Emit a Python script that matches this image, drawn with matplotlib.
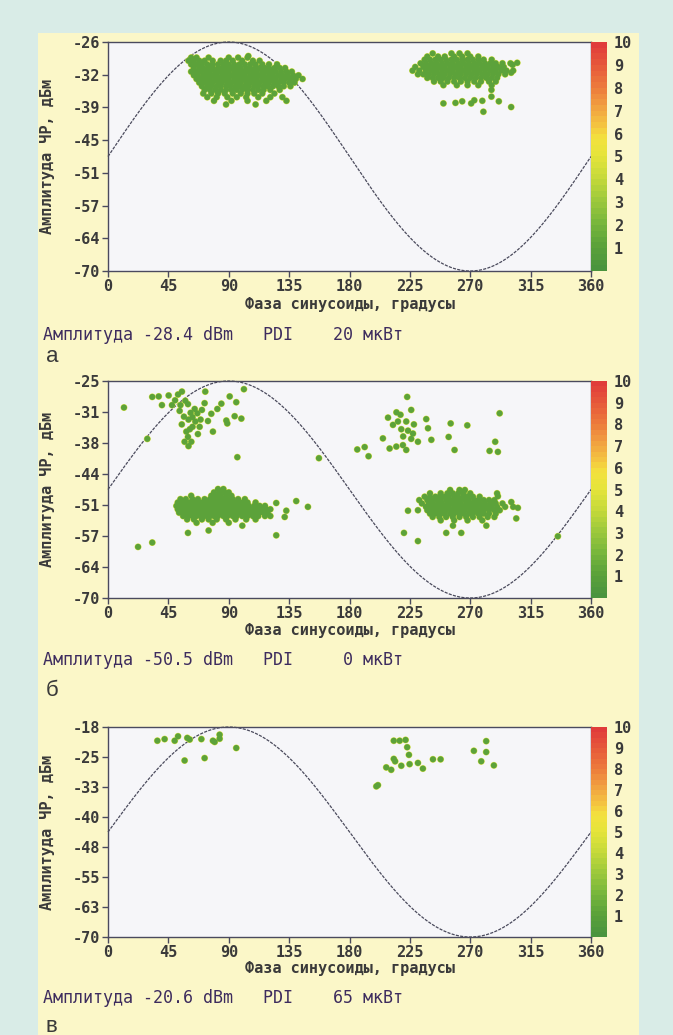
import numpy as np
import matplotlib
matplotlib.use("Agg")
import matplotlib.pyplot as plt
from matplotlib.patches import Rectangle
from matplotlib.colors import LinearSegmentedColormap, ListedColormap, Normalize
from matplotlib.cm import ScalarMappable

plt.rcParams['font.family'] = ['DejaVu Sans Mono']
plt.rcParams['font.weight'] = 'bold'

# ---------------- data ----------------
XTICKS = [0, 45, 90, 135, 180, 225, 270, 315, 360]
CBAR_TICKS = [1, 2, 3, 4, 5, 6, 7, 8, 9, 10]
COUNT = 1  # pulse count level of each plotted point (colour scale value)

# panel a
YLIM_A = (-70, -26)
YTICKLABELS_A = ["-70", "-64", "-57", "-51", "-45", "-39", "-32", "-26"]
ANNOT_A = "Амплитуда -28.4 dBm   PDI    20 мкВт"
LETTER_A = "а"
A_LEFT_ROWS = [
    (-29.0, [62, 66, 75, 90, 97, 104]),
    (-29.6, [60, 64, 68, 72, 78, 84, 88, 93, 100, 108, 113]),
    (-30.3, [62, 66, 70, 74, 78, 82, 86, 90, 94, 98, 102, 106, 110, 115, 120, 126]),
    (-31.0, [64, 68, 71, 75, 78, 82, 85, 89, 92, 96, 99, 103, 106, 110, 113, 117, 120, 124, 128, 132]),
    (-31.7, [62, 66, 69, 73, 76, 80, 83, 87, 90, 94, 97, 101, 104, 108, 111, 115, 118, 122, 125, 129, 133, 137]),
    (-32.4, [64, 67, 71, 74, 78, 81, 85, 88, 92, 95, 99, 102, 106, 109, 113, 116, 120, 123, 127, 130, 134, 138, 142]),
    (-33.1, [66, 69, 73, 76, 80, 83, 87, 90, 94, 97, 101, 104, 108, 111, 115, 118, 122, 125, 129, 132, 136, 140, 145]),
    (-33.8, [68, 71, 75, 78, 82, 85, 89, 92, 96, 99, 103, 106, 110, 113, 117, 120, 124, 127, 131, 135, 139]),
    (-34.5, [70, 74, 77, 81, 84, 88, 91, 95, 98, 102, 105, 109, 112, 116, 119, 123, 127, 131, 136]),
    (-35.2, [72, 76, 80, 84, 88, 92, 96, 100, 104, 108, 112, 116, 121, 128]),
    (-35.9, [71, 77, 82, 87, 93, 99, 104, 109, 115, 124]),
    (-36.6, [74, 81, 89, 96, 103, 112, 121, 130]),
    (-37.3, [79, 92, 104, 118, 133]),
    (-38.0, [88, 110]),
]
A_RIGHT_ROWS = [
    (-28.2, [242, 256, 262, 268]),
    (-28.8, [238, 246, 251, 258, 264, 270, 276]),
    (-29.4, [236, 240, 244, 248, 252, 256, 260, 264, 268, 272, 276, 280, 286]),
    (-30.1, [233, 237, 241, 245, 249, 253, 257, 261, 265, 269, 273, 277, 281, 285, 289, 294, 300]),
    (-30.8, [229, 235, 239, 243, 247, 251, 255, 259, 263, 267, 271, 275, 279, 283, 287, 291, 295]),
    (-31.5, [227, 232, 237, 241, 245, 249, 253, 257, 261, 265, 269, 273, 277, 281, 285, 289, 293, 297, 302]),
    (-32.2, [231, 235, 239, 243, 247, 251, 255, 259, 263, 267, 271, 275, 279, 283, 287, 291, 296]),
    (-32.9, [238, 242, 246, 250, 254, 258, 262, 266, 270, 274, 278, 282, 286, 290]),
    (-33.6, [243, 248, 253, 258, 263, 268, 273, 278, 284, 289]),
    (-34.3, [250, 260, 268, 276, 286]),
]
A_SPARSE_PHASE = [104.6, 250, 259, 264, 270.7, 273, 279, 285.8, 285.8, 291.3, 300.5, 279.8, 301.6, 300.5, 305]
A_SPARSE_AMP = [-28.7, -37.8, -37.7, -37.4, -37.8, -37.2, -37.3, -35.2, -36.5, -37.4, -38.5, -39.4, -30.4, -31.9, -30.0]

# panel b
YLIM_B = (-70, -25)
YTICKLABELS_B = ["-70", "-64", "-57", "-51", "-44", "-38", "-31", "-25"]
ANNOT_B = "Амплитуда -50.5 dBm   PDI     0 мкВт"
LETTER_B = "б"
B_LEFT_ROWS = [
    (-47.4, [82, 86]),
    (-48.1, [79, 83, 87, 90]),
    (-48.8, [62, 77, 80, 84, 88, 92]),
    (-49.5, [54, 58, 63, 67, 72, 76, 79, 83, 86, 89, 93, 97, 102]),
    (-50.2, [52, 55, 58, 61, 64, 67, 70, 73, 76, 79, 82, 85, 88, 91, 94, 97, 100, 104, 110]),
    (-50.9, [51, 54, 57, 60, 63, 66, 69, 72, 75, 78, 81, 84, 87, 90, 93, 96, 99, 102, 105, 109, 113, 117]),
    (-51.6, [52, 55, 58, 61, 64, 67, 70, 73, 76, 79, 82, 85, 88, 91, 94, 97, 100, 103, 106, 109, 112, 115, 118, 121]),
    (-52.3, [53, 56, 59, 62, 65, 68, 71, 74, 77, 80, 83, 86, 89, 92, 95, 98, 101, 104, 107, 110, 113, 116, 119]),
    (-53.0, [56, 60, 63, 66, 69, 72, 76, 79, 82, 86, 89, 93, 96, 100, 104, 108, 112, 117, 121]),
    (-53.7, [59, 64, 70, 75, 81, 88, 95, 103, 110]),
    (-54.4, [66, 78, 90]),
]
B_RIGHT_ROWS = [
    (-47.6, [255, 262, 266]),
    (-48.3, [240, 248, 253, 257, 261, 265, 270, 290]),
    (-49.0, [236, 240, 244, 247, 251, 254, 258, 261, 265, 268, 272, 277]),
    (-49.7, [232, 238, 241, 245, 248, 252, 255, 259, 262, 266, 269, 273, 276, 280, 284, 288]),
    (-50.4, [234, 239, 242, 246, 249, 253, 256, 260, 263, 267, 270, 274, 277, 281, 285, 289, 294]),
    (-51.1, [237, 240, 244, 247, 251, 254, 258, 261, 265, 268, 272, 275, 279, 282, 286, 290, 296, 302]),
    (-51.8, [231, 238, 242, 245, 249, 252, 256, 259, 263, 266, 270, 273, 277, 280, 284, 288, 292]),
    (-52.5, [240, 244, 248, 251, 255, 258, 262, 265, 269, 272, 276, 280, 284, 289]),
    (-53.2, [242, 247, 252, 257, 262, 267, 272, 277, 283, 288]),
    (-53.9, [248, 258, 268, 279]),
]
B_SPARSE_PHASE = [
    11.9, 29.3, 33, 37.8, 40.2, 45.2, 47.7, 52.2, 55.1, 53.4, 57.6, 59.6, 61.6, 56.6, 64.6, 66.6,
    65.1, 58.4, 57.1, 62.1, 59.6, 68.3, 72, 74.5, 78.2, 77, 81.5, 84.5, 72.5, 88.2, 90.7, 94.4,
    95.6, 99.4, 101.3, 96.4, 88.9, 60, 63, 55, 61, 67, 70, 54, 50, 60, 63, 69,
    223, 226, 208.7, 212.4, 216.1, 218.6, 222.3, 223.6, 227.3, 231, 219.8, 222.3, 214.9, 209.9,
    204.9, 237.2, 238.5, 241, 185.8, 191.3, 194.2, 255.4, 253.9, 258.3, 267.8, 291.9, 288.6,
    284.4, 290.6, 157.2, 215, 220, 226, 218, 228,
    59.6, 75, 100.1, 125.4, 131.7, 132.9, 140.3, 149, 125.4, 22.4, 33,
    220.6, 231, 252.1, 263.3, 257.1, 282, 304.3, 305.5, 300.6, 223.6, 335.3, 290.6,
]
B_SPARSE_AMP = [
    -30.5, -37.0, -28.3, -28.2, -30.0, -28.0, -30.0, -27.8, -27.2, -31.2, -29.1, -29.8, -31.6, -32.4, -30.8, -31.7,
    -33.4, -35.5, -37.6, -37.6, -36.6, -34.5, -29.6, -33.3, -35.5, -31.8, -30.8, -29.7, -27.2, -33.2, -28.2, -32.3,
    -29.4, -32.8, -26.7, -40.8, -33.8, -33.0, -34.5, -34.0, -35.0, -36.0, -31.0, -30.0, -29.0, -38.5, -32.5, -33.0,
    -28.3, -31.0, -32.6, -34.1, -33.4, -35.0, -33.4, -35.3, -35.9, -37.6, -38.3, -39.3, -38.6, -39.0,
    -36.9, -32.9, -34.8, -37.2, -39.2, -38.7, -40.6, -33.8, -36.6, -39.3, -34.2, -31.7, -37.6,
    -39.5, -39.7, -41.0, -31.5, -36.5, -37.0, -32.0, -34.0,
    -56.5, -56.0, -55.0, -57.0, -53.2, -51.9, -49.9, -51.1, -50.3, -59.4, -58.5,
    -56.5, -58.2, -56.5, -56.5, -55.0, -55.0, -53.5, -51.3, -50.1, -51.9, -57.2, -48.9,
]

# panel c
YLIM_C = (-70, -18)
YTICKLABELS_C = ["-70", "-63", "-55", "-48", "-40", "-33", "-25", "-18"]
ANNOT_C = "Амплитуда -20.6 dBm   PDI    65 мкВт"
LETTER_C = "в"
C_PHASE = [36.8, 42.2, 49.7, 52.2, 59.1, 60.9, 69.6, 57.1, 72.0, 78.2, 79.5, 83.2, 83.2, 95.6,
           213.0, 217.4, 221.8, 223.0, 224.3, 213.0, 214.0, 207.4, 211.1, 218.6, 224.8, 231.0,
           234.7, 242.2, 247.9, 201.2, 200.0, 281.9, 272.7, 281.9, 278.2, 287.6]
C_AMP = [-21.4, -21.0, -21.4, -20.3, -20.7, -21.1, -21.0, -26.3, -25.7, -21.4, -21.7, -19.9, -20.9, -23.2,
         -21.4, -21.4, -21.2, -23.0, -24.9, -25.9, -26.5, -28.0, -28.6, -27.6, -27.2, -26.9,
         -28.3, -26.0, -26.0, -32.4, -32.7, -21.5, -23.9, -24.2, -26.5, -27.5]


def rows_to_points(rows):
    ph, am = [], []
    for a, phs in rows:
        for p in phs:
            ph.append(p)
            am.append(a)
    return ph, am


def collect(row_sets, sp_ph, sp_am):
    ph, am = [], []
    for r in row_sets:
        p, a = rows_to_points(r)
        ph += p
        am += a
    return ph + list(sp_ph), am + list(sp_am)


PANELS = [
    dict(data=collect([A_LEFT_ROWS, A_RIGHT_ROWS], A_SPARSE_PHASE, A_SPARSE_AMP), ylim=YLIM_A,
         ytl=YTICKLABELS_A, annot=ANNOT_A, letter=LETTER_A,
         top=42, bottom=271, annot_y=335, letter_y=357),
    dict(data=collect([B_LEFT_ROWS, B_RIGHT_ROWS], B_SPARSE_PHASE, B_SPARSE_AMP), ylim=YLIM_B,
         ytl=YTICKLABELS_B, annot=ANNOT_B, letter=LETTER_B,
         top=381, bottom=598, annot_y=660, letter_y=691),
    dict(data=collect([], C_PHASE, C_AMP), ylim=YLIM_C,
         ytl=YTICKLABELS_C, annot=ANNOT_C, letter=LETTER_C,
         top=727, bottom=937, annot_y=998, letter_y=1026),
]

# ---------------- style ----------------
W, H = 673, 1035
fig = plt.figure(figsize=(W / 100, H / 100), dpi=100)
fig.patch.set_facecolor('#d9ece7')
fig.add_artist(Rectangle((38 / W, 0), (639 - 38) / W, 1 - 33 / H, transform=fig.transFigure,
                         facecolor='#fbf7c8', edgecolor='none', zorder=-10))

base = LinearSegmentedColormap.from_list('prpd', [
    (0.00, '#4a943e'), (0.10, '#5ba23a'), (0.20, '#78b63c'), (0.30, '#9cc83c'),
    (0.40, '#c4d93a'), (0.50, '#e4e43a'), (0.58, '#f3e23e'), (0.65, '#f4c040'),
    (0.72, '#f1a240'), (0.80, '#ed7f3c'), (0.90, '#e75c3a'), (1.00, '#e03c3a')])
cmap = ListedColormap(base(np.linspace(0, 1, 40)))
norm = Normalize(0, 10)

TXT = '#3a3a3a'
SPINE = '#4a4a5e'
left, right = 108 / W, 591 / W
cb_w = 16 / W

for P in PANELS:
    y0 = 1 - P['bottom'] / H
    h = (P['bottom'] - P['top']) / H
    ax = fig.add_axes([left, y0, right - left, h])
    cax = fig.add_axes([right, y0, cb_w, h])
    ax.set_facecolor('#f6f6f9')
    lo, hi = P['ylim']
    ph, am = P['data']
    # yellowish halo (scan fringe) under the green pulse markers
    ax.scatter(ph, am, s=25, marker='o', color='#dde44a', edgecolors='none', zorder=3)
    ax.scatter(ph, am, c=[COUNT] * len(ph), cmap=cmap, norm=norm, s=19, marker='o',
               edgecolors='none', zorder=4)
    phase = np.linspace(0, 360, 721)
    mid, half = (lo + hi) / 2, (hi - lo) / 2
    ax.plot(phase, mid + half * np.sin(np.radians(phase)), color='#4a4a5c', lw=0.9,
            ls=(0, (2.5, 1)), zorder=2, clip_on=False)
    ax.set_xlim(0, 360)
    ax.set_ylim(lo, hi)
    ax.set_xticks(XTICKS)
    ax.set_xticklabels([str(v) for v in XTICKS])
    ax.set_yticks(np.linspace(lo, hi, 8))
    ax.set_yticklabels(P['ytl'])
    ax.tick_params(direction='out', length=4, width=1, color=SPINE, labelsize=11,
                   labelcolor=TXT, pad=2)
    for s in ax.spines.values():
        s.set_color(SPINE)
        s.set_linewidth(1.0)
    ax.set_xlabel("Фаза синусоиды, градусы", fontsize=11, color=TXT, fontweight='bold')
    ax.xaxis.set_label_coords(0.5, -0.115)
    ax.set_ylabel("Амплитуда ЧР, дБм", fontsize=11, color=TXT, fontweight='bold')
    ax.yaxis.set_label_coords(-0.11, 0.5)

    cb = fig.colorbar(ScalarMappable(norm=norm, cmap=cmap), cax=cax, ticks=CBAR_TICKS)
    cb.outline.set_visible(False)
    cax.tick_params(length=0, labelsize=11, labelcolor=TXT, pad=5)

    fig.text(43 / W, 1 - P['annot_y'] / H, P['annot'], fontsize=12, fontweight='normal',
             color='#3d2c5e', va='center', ha='left', family='DejaVu Sans Mono')
    fig.text(46 / W, 1 - P['letter_y'] / H, P['letter'], fontsize=16, fontweight='normal',
             color=TXT, va='center', ha='left', family=['Liberation Sans', 'DejaVu Sans'])

fig.savefig('out.png', dpi=100, facecolor=fig.get_facecolor())
